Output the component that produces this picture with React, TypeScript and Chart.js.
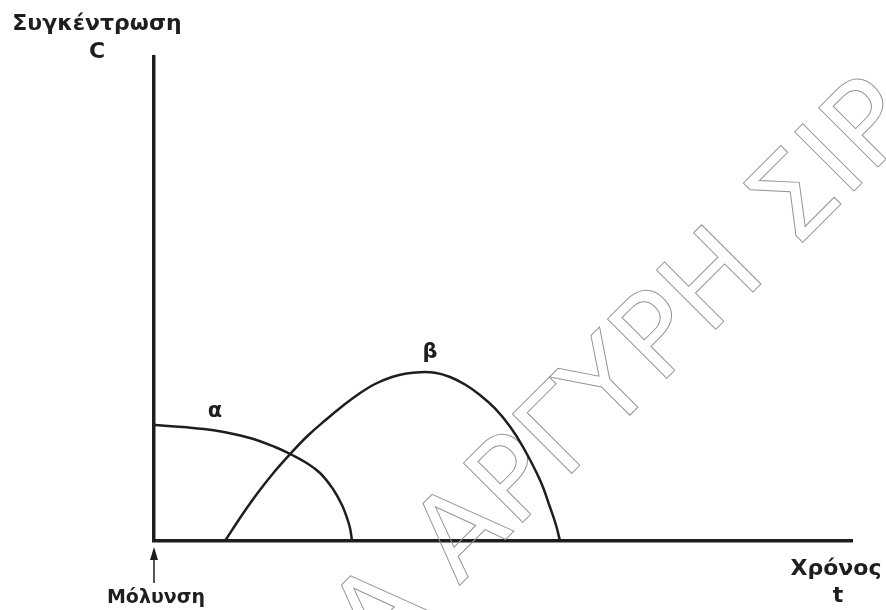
import React, { useEffect, useRef } from "react";
import { Chart, registerables } from "chart.js";

Chart.register(...registerables);

// Curve α: concentration after pollution (x = time, y = concentration)
const alphaX = [0, 4.15, 8.74, 13.47, 17.34, 19.77, 21.63, 23.78, 25.64, 26.93, 27.65, 28.08, 28.37];
const alphaY = [23.97, 23.55, 22.83, 21.38, 19.42, 17.77, 16.32, 14.05, 10.74, 7.44, 4.75, 2.69, 0];

// Curve β
const betaX = [10.17, 12.61, 14.9, 17.34, 19.77, 22.06, 24.5, 26.93, 29.23, 31.66, 34.1, 35.96, 38.11, 40.26, 42.41, 44.56, 46.7, 48.85, 51.0, 52.87, 55.3, 56.73, 57.59, 58.17];
const betaY = [0, 5.37, 10.02, 14.46, 18.39, 21.8, 24.9, 27.79, 30.27, 32.44, 33.88, 34.55, 34.88, 34.75, 33.88, 32.33, 30.17, 27.38, 23.66, 19.42, 12.6, 7.02, 3.31, 0];

const yTitle = ["Συγκέντρωση", "C"];
const xTitle = ["Χρόνος", "t"];
const eventLabel = "Μόλυνση";
const curveLabels = ["α", "β"];
const watermarkPre = "ΜΑΡΙΑ ";
const watermarkText = "ΜΑΡΙΑ ΑΡΓΥΡΗ ΣΙΡ";

const INK = "#1e1e1e";
const FONT = "'DejaVu Sans', Verdana, sans-serif";

const toPts = (xs: number[], ys: number[]) => xs.map((x, i) => ({ x, y: ys[i] }));

const annotations = {
  id: "annotations",
  beforeDatasetsDraw(chart: any) {
    const { ctx, chartArea } = chart;
    // watermark (outlined, rotated)
    ctx.save();
    ctx.font = `400 115px ${FONT}`;
    const off = ctx.measureText(watermarkPre).width;
    ctx.translate(chartArea.left + 305, chartArea.bottom + 45);
    ctx.rotate(-Math.PI / 4);
    ctx.strokeStyle = "#959595";
    ctx.lineWidth = 1;
    ctx.textAlign = "left";
    ctx.textBaseline = "alphabetic";
    ctx.strokeText(watermarkText, -off, 0);
    ctx.restore();
  },
  afterDraw(chart: any) {
    const { ctx, chartArea, scales } = chart;
    const left = chartArea.left;
    const bottom = chartArea.bottom;
    ctx.save();
    ctx.fillStyle = INK;
    ctx.textAlign = "center";
    ctx.textBaseline = "alphabetic";
    // y-axis title
    ctx.font = `bold 22px ${FONT}`;
    ctx.fillText(yTitle[0], left - 57, chartArea.top - 27);
    ctx.fillText(yTitle[1], left - 57, chartArea.top + 1);
    // x-axis title
    ctx.fillText(xTitle[0], chartArea.right - 16, bottom + 34);
    ctx.fillText(xTitle[1], chartArea.right - 14, bottom + 61);
    // curve labels
    ctx.font = `bold 21px ${FONT}`;
    const ax = scales.x.getPixelForValue(alphaX[1]);
    const ay = scales.y.getPixelForValue(alphaY[1]);
    ctx.fillText(curveLabels[0], ax + 32, ay - 10);
    const peak = betaY.indexOf(Math.max(...betaY));
    const bx = scales.x.getPixelForValue(betaX[peak]);
    const by = scales.y.getPixelForValue(betaY[peak]);
    ctx.fillText(curveLabels[1], bx + 10, by - 14);
    // event marker arrow
    const x0 = scales.x.getPixelForValue(0);
    ctx.strokeStyle = INK;
    ctx.lineWidth = 1.5;
    ctx.beginPath();
    ctx.moveTo(x0, bottom + 17);
    ctx.lineTo(x0, bottom + 42);
    ctx.stroke();
    ctx.beginPath();
    ctx.moveTo(x0, bottom + 6);
    ctx.lineTo(x0 - 4, bottom + 19);
    ctx.lineTo(x0 + 4, bottom + 19);
    ctx.closePath();
    ctx.fill();
    ctx.font = `bold 19px ${FONT}`;
    ctx.fillText(eventLabel, x0 + 2, bottom + 62);
    ctx.restore();
  },
};

export default function App() {
  const ref = useRef<HTMLCanvasElement>(null);
  useEffect(() => {
    if (!ref.current) return;
    const lineDs = (label: string, data: any) => ({
      label,
      data,
      showLine: true,
      borderColor: INK,
      borderWidth: 2.5,
      pointRadius: 0,
      pointHoverRadius: 0,
      tension: 0.4,
      fill: false,
    });
    const chart = new Chart(ref.current, {
      type: "scatter",
      data: {
        datasets: [lineDs("α", toPts(alphaX, alphaY)), lineDs("β", toPts(betaX, betaY))],
      },
      options: {
        animation: false,
        responsive: false,
        events: [],
        layout: { padding: { left: 154, top: 57, right: 34, bottom: 69 } },
        plugins: { legend: { display: false }, tooltip: { enabled: false } },
        scales: {
          x: {
            type: "linear",
            min: 0,
            max: 100,
            ticks: { display: false },
            grid: { display: false, drawTicks: false },
            border: { display: true, color: INK, width: 3.5 },
          },
          y: {
            type: "linear",
            min: 0,
            max: 100,
            ticks: { display: false },
            grid: { display: false, drawTicks: false },
            border: { display: true, color: INK, width: 3.5 },
          },
        },
      },
      plugins: [annotations],
    } as any);
    return () => chart.destroy();
  }, []);
  return (
    <div style={{ position: "absolute", left: 0, top: 0, width: 886, height: 610, background: "#fff" }}>
      <canvas ref={ref} width={886} height={610} style={{ display: "block" }} />
    </div>
  );
}
